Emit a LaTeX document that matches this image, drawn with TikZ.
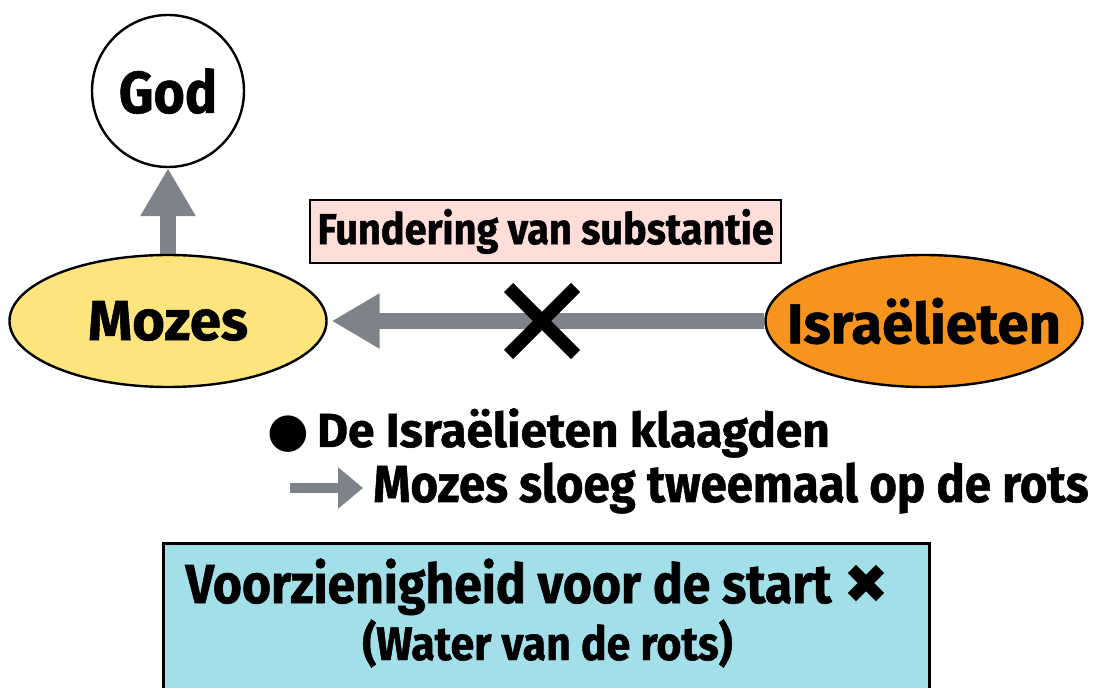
\documentclass[tikz,border=0pt]{standalone}
\usepackage{fontspec}
\setmainfont{Fira Sans}[BoldFeatures={FakeBold=1}]
\newfontfamily\narrowfont{Fira Sans}[FakeStretch=0.91,BoldFeatures={FakeBold=1}]
\newfontfamily\symbolfont{DejaVu Sans}
\usetikzlibrary{shapes.geometric,shapes.misc,arrows.meta,backgrounds}
\definecolor{mozesyellow}{RGB}{253,228,125}
\definecolor{israelorange}{RGB}{247,148,29}
\definecolor{arrowgray}{RGB}{125,131,137}
\definecolor{labelpink}{RGB}{255,221,216}
\definecolor{startcyan}{RGB}{163,223,232}
\tikzset{
  godnode/.style={circle,draw=black,line width=0.6mm,fill=white,
    minimum size=38mm,inner sep=0pt,font=\narrowfont\fontsize{42}{50}\selectfont\bfseries},
  personnode/.style={ellipse,draw=black,line width=0.6mm,
    minimum width=79.25mm,minimum height=33mm,inner xsep=-9mm,inner ysep=0pt,
    font=\fontsize{40}{48}\selectfont\bfseries},
  labelbox/.style={rectangle,draw=black,line width=0.65mm,fill=labelpink,
    minimum width=117.75mm,minimum height=15.75mm,inner sep=0pt,
    font=\narrowfont\fontsize{31}{36}\selectfont\bfseries},
  startbox/.style={rectangle,draw=black,line width=0.75mm,fill=startcyan,
    minimum width=191.5mm,minimum height=38mm,inner sep=0pt},
  notetext/.style={inner sep=0pt,font=\narrowfont\fontsize{33.5}{40}\selectfont\bfseries},
  crossmark/.style={cross out,draw=black,line width=3.25mm,
    minimum size=13.5mm,inner sep=0pt},
  bigarrow/.style={arrowgray,line width=4.2mm,
    -{Triangle[length=12mm,width=13mm]}},
  smallarrow/.style={arrowgray,line width=2.5mm,
    -{Triangle[length=6.25mm,width=10mm]}}
}
\begin{document}
\begin{tikzpicture}
  \useasboundingbox (0,0) rectangle (27.4,17.175);

  \node[godnode] (god) at (4.2,14.9) {God};
  \node[personnode,fill=mozesyellow] (mozes) at (4.2,9.15) {Mozes};
  \node[personnode,fill=israelorange] (israel) at (23.1,9.15) {Israëlieten};
  \node[labelbox] (fundering) at (13.64,11.39) {Fundering van substantie};

  \begin{scope}[on background layer]
    \draw[bigarrow] (mozes) -- (god);
    \draw[bigarrow,shorten >=1mm] (israel) -- (mozes);
  \end{scope}
  \node[crossmark] (cross) at (13.55,9.15) {};

  % uitleg onder de pijl
  \node[notetext,font=\fontsize{34}{40}\selectfont\bfseries,
    anchor=base west] (klaag) at (6.675,6.0)
    {{\symbolfont ●}\,De Israëlieten klaagden};
  \node[notetext,font=\narrowfont\fontsize{37}{42}\selectfont\bfseries,
    anchor=base west] (sloeg) at (9.325,4.625) {Mozes sloeg tweemaal op de rots};
  \coordinate (arrowtail) at (7.25,4.975);
  \coordinate (arrowtip) at (9.075,4.975);
  \draw[smallarrow] (arrowtail) -- (arrowtip);

  \node[startbox,anchor=north west] (start) at (4.05,3.625) {};
  \node[notetext,font=\narrowfont\fontsize{39}{46}\selectfont\bfseries,
    anchor=base] (startline) at (13.4375,2.1)
    {Voorzienigheid voor de start {\symbolfont ✖}};
  \node[notetext,anchor=base] (waterline) at (13.6875,0.675)
    {(Water van de rots)};
\end{tikzpicture}
\end{document}
